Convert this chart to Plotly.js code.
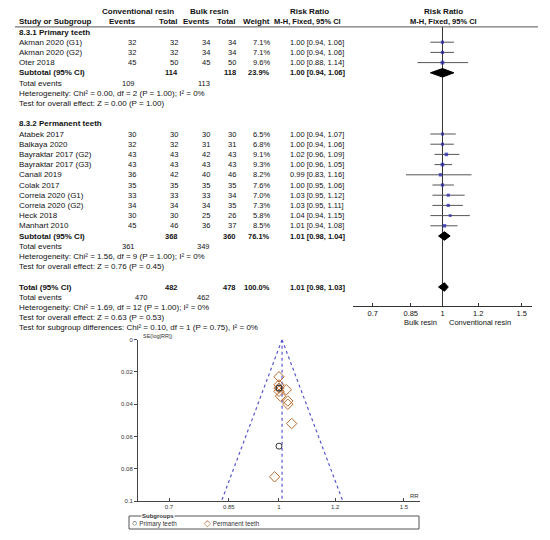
<!DOCTYPE html>
<html>
<head>
<meta charset="utf-8">
<script src="https://cdn.plot.ly/plotly-3.0.1.min.js"></script>
<style>html,body{margin:0;padding:0;background:#fff;}#chart{width:550px;height:540px;}</style>
</head>
<body>
<div id="chart"></div>
<script>
// ---------- DATA ----------
const group1Name = '8.3.1 Primary teeth';
const studies1 = ['Akman 2020 (G1)', 'Akman 2020 (G2)', 'Oter 2018'];
const convEvents1 = [32, 32, 45];
const convTotal1 = [32, 32, 50];
const bulkEvents1 = [34, 34, 45];
const bulkTotal1 = [34, 34, 50];
const weight1 = [7.1, 7.1, 9.6];
const rr1 = [1.00, 1.00, 1.00];
const lo1 = [0.94, 0.94, 0.88];
const hi1 = [1.06, 1.06, 1.14];
const sub1 = {convTotal: 114, bulkTotal: 118, weight: 23.9, rr: 1.00, lo: 0.94, hi: 1.06, convEv: 109, bulkEv: 113,
  het: 'Heterogeneity: Chi² = 0.00, df = 2 (P = 1.00); I² = 0%', test: 'Test for overall effect: Z = 0.00 (P = 1.00)'};

const group2Name = '8.3.2 Permanent teeth';
const studies2 = ['Atabek 2017', 'Balkaya 2020', 'Bayraktar 2017 (G2)', 'Bayraktar 2017 (G3)', 'Canali 2019',
  'Colak 2017', 'Correia 2020 (G1)', 'Correia 2020 (G2)', 'Heck 2018', 'Manhart 2010'];
const convEvents2 = [30, 32, 43, 43, 36, 35, 33, 34, 30, 45];
const convTotal2 = [30, 32, 43, 43, 42, 35, 33, 34, 30, 46];
const bulkEvents2 = [30, 31, 42, 43, 40, 35, 33, 34, 25, 36];
const bulkTotal2 = [30, 31, 43, 43, 46, 35, 34, 35, 26, 37];
const weight2 = [6.5, 6.8, 9.1, 9.3, 8.2, 7.6, 7.0, 7.3, 5.8, 8.5];
const rr2 = [1.00, 1.00, 1.02, 1.00, 0.99, 1.00, 1.03, 1.03, 1.04, 1.01];
const lo2 = [0.94, 0.94, 0.96, 0.96, 0.83, 0.95, 0.95, 0.95, 0.94, 0.94];
const hi2 = [1.07, 1.06, 1.09, 1.05, 1.16, 1.06, 1.12, 1.11, 1.15, 1.08];
const sub2 = {convTotal: 368, bulkTotal: 360, weight: 76.1, rr: 1.01, lo: 0.98, hi: 1.04, convEv: 361, bulkEv: 349,
  het: 'Heterogeneity: Chi² = 1.56, df = 9 (P = 1.00); I² = 0%', test: 'Test for overall effect: Z = 0.76 (P = 0.45)'};

const overall = {convTotal: 482, bulkTotal: 478, weight: 100.0, rr: 1.01, lo: 0.98, hi: 1.03, convEv: 470, bulkEv: 462,
  het: 'Heterogeneity: Chi² = 1.69, df = 12 (P = 1.00); I² = 0%', test: 'Test for overall effect: Z = 0.63 (P = 0.53)',
  sub: 'Test for subgroup differences: Chi² = 0.10, df = 1 (P = 0.75), I² = 0%'};

const forestTicks = [0.7, 0.85, 1, 1.2, 1.5];
const forestTickText = ['0.7', '0.85', '1', '1.2', '1.5'];
const favoursLeft = 'Bulk resin';
const favoursRight = 'Conventional resin';

// funnel plot
const funnelRR1 = [1.00, 1.00, 1.00];
const funnelSE1 = [0.030, 0.030, 0.066];
const funnelRR2 = [1.00, 1.00, 1.024, 1.00, 0.986, 1.00, 1.029, 1.029, 1.042, 1.005];
const funnelSE2 = [0.032, 0.030, 0.031, 0.023, 0.085, 0.028, 0.038, 0.040, 0.052, 0.035];
const funnelPooled = 1.01;
const funnelLowAtMax = 0.83;
const funnelHighAtMax = 1.23;
const funnelMaxSE = 0.1;
const funnelYTicks = [0, 0.02, 0.04, 0.06, 0.08, 0.1];
const funnelYTickText = ['0', '0.02', '0.04', '0.06', '0.08', '0.1'];
const legendTitle = 'Subgroups';
const legendNames = ['Primary teeth', 'Permanent teeth'];

// ---------- LAYOUT HELPERS ----------
const W = 550, H = 540;
const px = x => x / W;
const py = y => 1 - y / H;
const ROW0 = 32, ROWH = 10.2;         // pixel y of row 0 and row height
const rowOf = y => (y - ROW0) / ROWH;  // pixel -> row
const FS = 8;      // left-hand text
const FSN = 7.5;   // numeric columns
const FONT = 'Liberation Sans, Arial, sans-serif';
const TXT = '#111';

const annotations = [];
const shapes = [];
function txt(text, xpx, row, anchor, bold, size) {
  annotations.push({
    text: bold ? '<b>' + text + '</b>' : text,
    x: px(xpx), xref: 'paper', y: row, yref: 'y',
    xanchor: anchor || 'left', yanchor: 'middle', showarrow: false,
    font: {family: FONT, size: size || FS, color: TXT}
  });
}
const num = (text, xpx, row, anchor, bold) => txt(text, xpx, row, anchor, bold, FSN);
const f2 = v => v.toFixed(2);
const ciText = (r, l, h) => f2(r) + ' [' + f2(l) + ', ' + f2(h) + ']';

// column positions (px)
const C = {name: 17, ce: 138, ct: 180, be: 212, bt: 238, w: 272, rr: 288};

// headers
txt('Conventional resin', 138, -2, 'center', true);
txt('Bulk resin', 209, -2, 'center', true);
txt('Risk Ratio', 309, -2, 'center', true);
txt('Risk Ratio', 443, -2, 'center', true);
txt('Study or Subgroup', C.name, -1, 'left', true);
txt('Events', C.ce, -1, 'right', true);
txt('Total', C.ct, -1, 'right', true);
txt('Events', C.be, -1, 'right', true);
txt('Total', C.bt, -1, 'right', true);
txt('Weight', C.w, -1, 'right', true);
txt('M-H, Fixed, 95% CI', 307, -1, 'center', true, FSN);
txt('M-H, Fixed, 95% CI', 443, -1, 'center', true, FSN);
shapes.push({type: 'line', xref: 'paper', yref: 'y', x0: px(15), x1: px(538), y0: -0.5, y1: -0.5,
  line: {color: '#555', width: 1}});

// forest marks
const ciX = [], ciY = [], sqX = [], sqY = [], sqS = [];
const diamonds = [];
let row = 0;
function group(name, studies, ce, ct, be, bt, w, rr, lo, hi, sub, evRightConv) {
  txt(name, C.name, row, 'left', true); row++;
  for (let i = 0; i < studies.length; i++) {
    txt(studies[i], C.name, row);
    num(String(ce[i]), C.ce, row, 'right');
    num(String(ct[i]), C.ct, row, 'right');
    num(String(be[i]), C.be, row, 'right');
    num(String(bt[i]), C.bt, row, 'right');
    num(w[i].toFixed(1) + '%', C.w, row, 'right');
    num(ciText(rr[i], lo[i], hi[i]), C.rr, row, 'left');
    ciX.push(lo[i], hi[i], null); ciY.push(row, row, null);
    sqX.push(rr[i]); sqY.push(row); sqS.push(1.6 + w[i] * 0.22);
    row++;
  }
  txt('Subtotal (95% CI)', C.name, row, 'left', true);
  num(String(sub.convTotal), C.ct, row, 'right', true);
  num(String(sub.bulkTotal), C.bt, row, 'right', true);
  num(sub.weight.toFixed(1) + '%', C.w, row, 'right', true);
  num(ciText(sub.rr, sub.lo, sub.hi), C.rr, row, 'left', true);
  diamonds.push({rr: sub.rr, lo: sub.lo, hi: sub.hi, row: row});
  row++;
  txt('Total events', C.name, row);
  num(String(sub.convEv), evRightConv, row, 'right');
  num(String(sub.bulkEv), C.be, row, 'right');
  row++;
  txt(sub.het, C.name, row); row++;
  txt(sub.test, C.name, row); row++;
  row++; // blank
}
group(group1Name, studies1, convEvents1, convTotal1, bulkEvents1, bulkTotal1, weight1, rr1, lo1, hi1, sub1, 137);
group(group2Name, studies2, convEvents2, convTotal2, bulkEvents2, bulkTotal2, weight2, rr2, lo2, hi2, sub2, 137);
txt('Total (95% CI)', C.name, row, 'left', true);
num(String(overall.convTotal), C.ct, row, 'right', true);
num(String(overall.bulkTotal), C.bt, row, 'right', true);
num(overall.weight.toFixed(1) + '%', C.w, row, 'right', true);
num(ciText(overall.rr, overall.lo, overall.hi), C.rr, row, 'left', true);
diamonds.push({rr: overall.rr, lo: overall.lo, hi: overall.hi, row: row});
row++;
txt('Total events', C.name, row);
num(String(overall.convEv), 150, row, 'right');
num(String(overall.bulkEv), C.be, row, 'right');
row++;
txt(overall.het, C.name, row); row++;
txt(overall.test, C.name, row); row++;
txt(overall.sub, C.name, row); row++;

const AXIS_PX = 306;
const axisRow = rowOf(AXIS_PX);
const yTopPx = 4, yBotPx = 336;

const traces = [];
// no-effect line
traces.push({x: [1, 1], y: [-0.5, axisRow], xaxis: 'x', yaxis: 'y', mode: 'lines',
  line: {color: '#333', width: 1}, hoverinfo: 'skip', showlegend: false});
traces.push({x: ciX, y: ciY, xaxis: 'x', yaxis: 'y', mode: 'lines',
  line: {color: '#555', width: 1}, hoverinfo: 'skip', showlegend: false, connectgaps: false});
traces.push({x: sqX, y: sqY, xaxis: 'x', yaxis: 'y', mode: 'markers',
  marker: {symbol: 'square', size: sqS, color: '#2020b0', line: {width: 0}}, showlegend: false});
const DH = 0.42;
diamonds.forEach(d => {
  traces.push({x: [d.lo, d.rr, d.hi, d.rr, d.lo], y: [d.row, d.row - DH, d.row, d.row + DH, d.row],
    xaxis: 'x', yaxis: 'y', mode: 'lines', fill: 'toself', fillcolor: '#000',
    line: {color: '#000', width: 1}, showlegend: false, hoverinfo: 'skip'});
});
annotations.push({text: favoursLeft, x: px(420), xref: 'paper', y: py(322), yref: 'paper', xanchor: 'center',
  yanchor: 'middle', showarrow: false, font: {family: FONT, size: FSN, color: TXT}});
annotations.push({text: favoursRight, x: px(480), xref: 'paper', y: py(322), yref: 'paper', xanchor: 'center',
  yanchor: 'middle', showarrow: false, font: {family: FONT, size: FSN, color: TXT}});

// ---------- FUNNEL ----------
const FUN = '#5656d0';
traces.push({x: [funnelPooled, funnelLowAtMax, null, funnelPooled, funnelHighAtMax, null, funnelPooled, funnelPooled],
  y: [0, funnelMaxSE, null, 0, funnelMaxSE, null, 0, funnelMaxSE],
  xaxis: 'x2', yaxis: 'y2', mode: 'lines', line: {color: FUN, width: 1.2, dash: 'dot'},
  showlegend: false, hoverinfo: 'skip'});
traces.push({x: funnelRR2, y: funnelSE2, xaxis: 'x2', yaxis: 'y2', mode: 'markers', name: legendNames[1],
  marker: {symbol: 'diamond-open', size: 8, color: '#b86a2e', line: {width: 1}}, showlegend: false});
traces.push({x: funnelRR1, y: funnelSE1, xaxis: 'x2', yaxis: 'y2', mode: 'markers', name: legendNames[0],
  marker: {symbol: 'circle-open', size: 6, color: '#333', line: {width: 1}}, showlegend: false});

const FFS = 6;
annotations.push({text: 'SE(log[RR])', x: px(141), xref: 'paper', y: py(336), yref: 'paper', xanchor: 'left',
  yanchor: 'middle', showarrow: false, font: {family: FONT, size: 5.5, color: '#333'}});
annotations.push({text: 'RR', x: px(421), xref: 'paper', y: py(496), yref: 'paper', xanchor: 'right',
  yanchor: 'middle', showarrow: false, font: {family: FONT, size: FFS, color: '#333'}});

// legend box
shapes.push({type: 'rect', xref: 'paper', yref: 'paper', x0: px(129), x1: px(419), y0: py(529), y1: py(516),
  line: {color: '#555', width: 1}, fillcolor: 'rgba(0,0,0,0)'});
annotations.push({text: '<b>' + legendTitle + '</b>', x: px(141), xref: 'paper', y: py(516), yref: 'paper',
  xanchor: 'left', yanchor: 'middle', showarrow: false, bgcolor: '#fff', borderpad: 0,
  font: {family: FONT, size: FFS, color: '#333'}});
annotations.push({text: '<span style="color:#333;font-size:9px">○</span> ' + legendNames[0], x: px(130), xref: 'paper', y: py(523),
  yref: 'paper', xanchor: 'left', yanchor: 'middle', showarrow: false, font: {family: FONT, size: 6.3, color: '#333'}});
annotations.push({text: '<span style="color:#b86a2e;font-size:9px">◇</span> ' + legendNames[1], x: px(202), xref: 'paper', y: py(523),
  yref: 'paper', xanchor: 'left', yanchor: 'middle', showarrow: false, font: {family: FONT, size: 6.3, color: '#333'}});

const logR = [Math.log10(0.633), Math.log10(1.58)];
const layout = {
  width: W, height: H, margin: {l: 0, r: 0, t: 0, b: 0}, paper_bgcolor: '#fff', plot_bgcolor: 'rgba(0,0,0,0)',
  showlegend: false, font: {family: FONT, color: TXT},
  xaxis: {domain: [px(353), px(532)], type: 'log', range: logR, anchor: 'free', position: py(AXIS_PX),
    tickvals: forestTicks, ticktext: forestTickText, ticks: 'inside', ticklen: 3, tickcolor: '#333',
    showline: true, linecolor: '#333', linewidth: 1, showgrid: false, zeroline: false,
    tickfont: {family: FONT, size: FSN, color: TXT}, fixedrange: true},
  yaxis: {domain: [py(yBotPx), py(yTopPx)], range: [rowOf(yBotPx), rowOf(yTopPx)], visible: false,
    showgrid: false, zeroline: false, fixedrange: true},
  xaxis2: {domain: [px(138), px(420)], type: 'log', range: logR, anchor: 'y2',
    tickvals: forestTicks, ticktext: forestTickText, ticks: 'inside', ticklen: 3, tickcolor: '#444',
    showline: true, linecolor: '#444', linewidth: 1, showgrid: false, zeroline: false,
    tickfont: {family: FONT, size: FFS, color: '#333'}, fixedrange: true},
  yaxis2: {domain: [py(501), py(339.7)], range: [funnelMaxSE, 0], anchor: 'x2',
    tickvals: funnelYTicks, ticktext: funnelYTickText, ticks: 'outside', ticklen: 3, tickcolor: '#444',
    showline: true, linecolor: '#444', linewidth: 1, showgrid: false, zeroline: false,
    tickfont: {family: FONT, size: FFS, color: '#333'}, fixedrange: true},
  annotations: annotations, shapes: shapes
};
Plotly.newPlot('chart', traces, layout, {staticPlot: true, displayModeBar: false});
</script>
</body>
</html>
